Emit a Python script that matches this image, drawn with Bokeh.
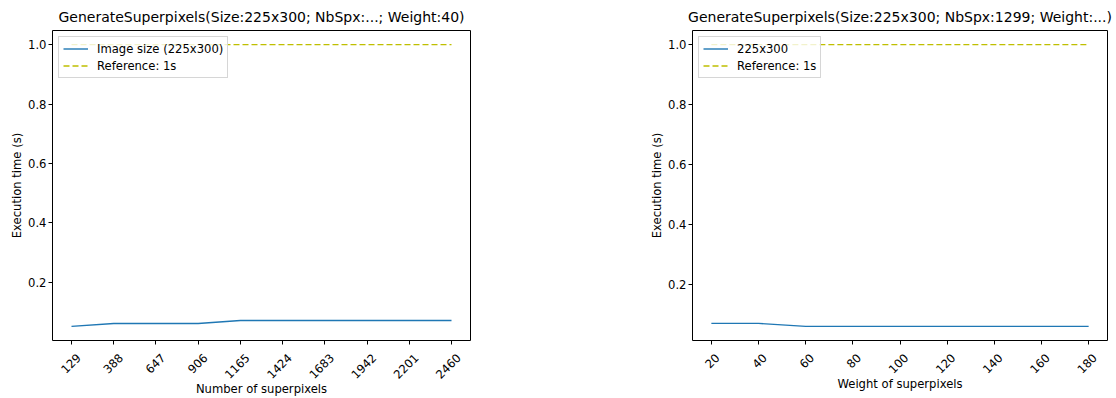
from bokeh.plotting import figure
from bokeh.layouts import row
from bokeh.models import (Range1d, FixedTicker, NumeralTickFormatter, Legend, LegendItem,
                          LinearAxis)
from bokeh.embed import file_html
from bokeh.resources import INLINE
import math

# ---- data ----
nbspx = [129, 388, 647, 906, 1165, 1424, 1683, 1942, 2201, 2460]
time_nbspx = [0.052, 0.062, 0.062, 0.062, 0.072, 0.072, 0.072, 0.072, 0.072, 0.072]
weights = [20, 40, 60, 80, 100, 120, 140, 160, 180]
time_weight = [0.072, 0.072, 0.062, 0.062, 0.062, 0.062, 0.062, 0.062, 0.062]
reference = 1.0
y_ticks = [0.2, 0.4, 0.6, 0.8, 1.0]

title_left = "GenerateSuperpixels(Size:225x300; NbSpx:...; Weight:40)"
title_right = "GenerateSuperpixels(Size:225x300; NbSpx:1299; Weight:...)"
xlabel_left = "Number of superpixels"
xlabel_right = "Weight of superpixels"
ylabel = "Execution time (s)"
legend_left = "Image size (225x300)"
legend_right = "225x300"
legend_ref = "Reference: 1s"

BLUE = "#1f77b4"
YEL = "#bfbf00"
FONT = "DejaVu Sans"
FS = "11.6px"
H = 398
TOP = 30
BOTTOM = 58


def margins(vals):
    lo, hi = min(vals), max(vals)
    m = (hi - lo) * 0.05
    return lo - m, hi + m


def style_axis(ax):
    ax.axis_line_color = None
    ax.minor_tick_line_color = None
    ax.major_tick_in = 0
    ax.major_label_text_font = FONT
    ax.major_label_text_font_size = FS
    ax.major_label_text_color = "#000000"
    ax.axis_label_text_font = FONT
    ax.axis_label_text_font_size = FS
    ax.axis_label_text_font_style = "normal"
    ax.axis_label_text_color = "#000000"


def make(xs, ys, title, xlabel, leglabel, width, bl, br, shift_px):
    x0, x1 = margins(xs)
    y0, y1 = margins(list(ys) + [reference])
    p = figure(width=width, height=H, output_backend="svg", toolbar_location=None,
               x_range=Range1d(x0, x1), y_range=Range1d(y0, y1),
               min_border_left=bl, min_border_right=br, min_border_top=TOP,
               min_border_bottom=BOTTOM, title=title)
    p.title.text_font = FONT
    p.title.text_font_size = "14px"
    p.title.text_font_style = "normal"
    p.title.align = "center"
    p.title.text_color = "#000000"
    p.title.standoff = 12
    p.xgrid.visible = False
    p.ygrid.visible = False
    p.outline_line_color = "#000000"
    p.outline_line_width = 1
    p.outline_line_alpha = 1
    p.background_fill_color = "white"
    p.border_fill_color = "white"

    r1 = p.line(xs, ys, line_color=BLUE, line_width=1.4)
    r2 = p.line([xs[0], xs[-1]], [reference, reference], line_color=YEL,
                line_width=1.4, line_dash="6 3")

    # main x axis: ticks only
    xa = p.xaxis[0]
    style_axis(xa)
    xa.ticker = FixedTicker(ticks=xs)
    xa.major_tick_out = 4
    xa.major_tick_line_color = "#000000"
    xa.major_label_overrides = {t: "" for t in xs}
    xa.major_label_standoff = 0

    # second x axis: rotated labels shifted so they sit centred under the ticks
    frame_w = width - bl - br
    d = shift_px * (x1 - x0) / frame_w
    p.extra_x_ranges = {"lab": Range1d(x0 - d, x1 - d)}
    la = LinearAxis(x_range_name="lab", ticker=FixedTicker(ticks=xs))
    style_axis(la)
    la.major_tick_out = 0
    la.major_tick_line_color = None
    la.major_label_orientation = math.pi / 4
    la.major_label_standoff = 11
    la.axis_label = xlabel
    la.axis_label_standoff = -4
    p.add_layout(la, "below")

    ya = p.yaxis[0]
    style_axis(ya)
    ya.major_tick_out = 4
    ya.major_tick_line_color = "#000000"
    ya.major_label_standoff = 2
    ya.axis_label_standoff = 1
    ya.ticker = FixedTicker(ticks=y_ticks)
    ya.formatter = NumeralTickFormatter(format="0.0")
    ya.axis_label = ylabel

    leg = Legend(items=[LegendItem(label=leglabel, renderers=[r1]),
                        LegendItem(label=legend_ref, renderers=[r2])],
                 location="top_left", margin=6, padding=4, spacing=2,
                 label_height=15, glyph_height=15, glyph_width=25, label_standoff=9,
                 label_text_font=FONT, label_text_font_size=FS,
                 label_text_color="#000000",
                 border_line_color="#cccccc", border_line_alpha=0.8,
                 background_fill_alpha=0.8)
    p.add_layout(leg, "center")
    return p


pl = make(nbspx, time_nbspx, title_left, xlabel_left, legend_left, 560, 52, 90, 7)
pr = make(weights, time_weight, title_right, xlabel_right, legend_right, 556, 132, 9, 6)

layout = row(pl, pr)
open("out.html", "w").write(file_html(layout, INLINE))
